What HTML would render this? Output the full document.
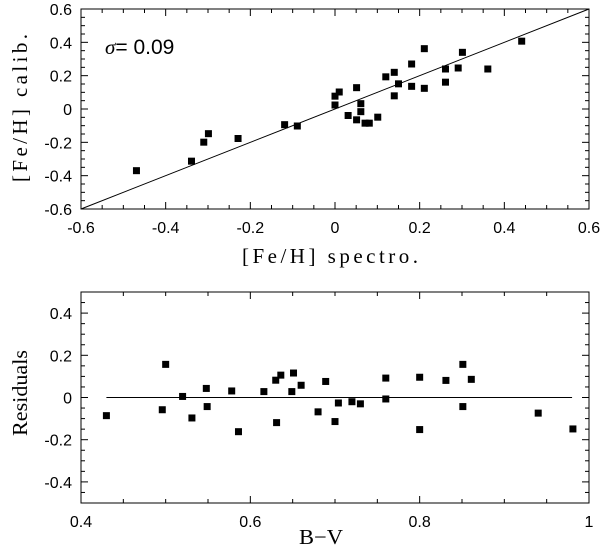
<!DOCTYPE html>
<html><head><meta charset="utf-8"><style>
body{margin:0;background:#fff;width:600px;height:547px;overflow:hidden}
svg text{font-family:"Liberation Sans",sans-serif}
</style></head><body>
<svg id="c" width="600" height="547" xmlns="http://www.w3.org/2000/svg"></svg>
<script>
const topSpectro=[-0.469,-0.339,-0.310,-0.299,-0.229,-0.119,-0.089,0.000,0.000,0.010,0.031,0.051,0.051,0.061,0.061,0.071,0.081,0.101,0.120,0.140,0.140,0.150,0.181,0.181,0.211,0.211,0.261,0.261,0.291,0.301,0.361,0.441];
const topCalib=[-0.37,-0.313,-0.199,-0.148,-0.177,-0.094,-0.102,0.077,0.024,0.102,-0.039,0.128,-0.065,0.032,-0.016,-0.085,-0.085,-0.049,0.193,0.220,0.079,0.151,0.270,0.136,0.362,0.124,0.240,0.161,0.246,0.340,0.240,0.407];
const botBV=[0.430,0.500,0.496,0.520,0.531,0.548,0.549,0.578,0.586,0.616,0.630,0.631,0.636,0.649,0.651,0.660,0.680,0.689,0.700,0.704,0.720,0.730,0.760,0.760,0.800,0.800,0.831,0.851,0.851,0.861,0.940,0.981];
const botRes=[-0.086,0.157,-0.058,0.005,-0.097,0.043,-0.043,0.031,-0.162,0.028,0.082,-0.119,0.106,0.028,0.116,0.058,-0.068,0.076,-0.114,-0.026,-0.020,-0.030,0.092,-0.007,0.096,-0.152,0.081,0.157,-0.043,0.086,-0.074,-0.149];
const topXTicks=["-0.6","-0.4","-0.2","0","0.2","0.4","0.6"];
const topYTicks=["-0.6","-0.4","-0.2","0","0.2","0.4","0.6"];
const botXTicks=["0.4","0.6","0.8","1"];
const botYTicks=["-0.4","-0.2","0","0.2","0.4"];
const svg=document.getElementById('c');
const NS="http://www.w3.org/2000/svg";
function mk(t,a,txt){const e=document.createElementNS(NS,t);for(const k in a)e.setAttribute(k,a[k]);if(txt!==undefined)e.textContent=txt;svg.appendChild(e);return e;}
function panel(p){
 const sx=v=>p.x0+(v-p.xmin)/(p.xmax-p.xmin)*(p.x1-p.x0);
 const sy=v=>p.y1-(v-p.ymin)/(p.ymax-p.ymin)*(p.y1-p.y0);
 const fr=mk('rect',{x:p.x0,y:p.y0,width:p.x1-p.x0,height:p.y1-p.y0,fill:'none',stroke:'#000','stroke-width':1});
 
 const eps=1e-9;
 for(let v=p.xmin;v<=p.xmax+eps;v+=0.05){const maj=Math.abs(Math.round(v/0.2)*0.2-v)<1e-6;const L=maj?7:4;const X=sx(v);
  mk('line',{x1:X,y1:p.y1,x2:X,y2:p.y1-L,stroke:'#000'});mk('line',{x1:X,y1:p.y0,x2:X,y2:p.y0+L,stroke:'#000'});}
 for(let v=p.ymin;v<=p.ymax+eps;v+=0.05){const maj=Math.abs(Math.round(v/0.2)*0.2-v)<1e-6;const L=maj?7:4;const Y=sy(v);
  mk('line',{x1:p.x0,y1:Y,x2:p.x0+L,y2:Y,stroke:'#000'});mk('line',{x1:p.x1,y1:Y,x2:p.x1-L,y2:Y,stroke:'#000'});}
 p.xt.forEach(t=>{const e=mk('text',{x:sx(+t),y:p.y1+24,'text-anchor':'middle','font-size':16},t);});
 p.yt.forEach(t=>{const e=mk('text',{x:p.x0-9,y:sy(+t)+6,'text-anchor':'end','font-size':16},t);});
 p.xs.forEach((v,i)=>{const r=mk('rect',{x:sx(v)-3.5,y:sy(p.ys[i])-3.5,width:7,height:7,fill:'#000'});});
 return {sx,sy};
}
const a=panel({name:'calib',x0:81,x1:589,y0:9,y1:209,xmin:-0.6,xmax:0.6,ymin:-0.6,ymax:0.6,xt:topXTicks,yt:topYTicks,xs:topSpectro,ys:topCalib});
let l=mk('line',{x1:a.sx(-0.6),y1:a.sy(-0.6),x2:a.sx(0.6),y2:a.sy(0.6),stroke:'#000'});

const b=panel({name:'residual',x0:81,x1:589,y0:292,y1:503,xmin:0.4,xmax:1.0,ymin:-0.5,ymax:0.5,xt:botXTicks,yt:botYTicks,xs:botBV,ys:botRes});
l=mk('line',{x1:b.sx(0.43),y1:b.sy(0),x2:b.sx(0.98),y2:b.sy(0),stroke:'#000'});

let t=mk('text',{x:105,y:54,'font-size':21},'');
t.innerHTML='<tspan font-style="italic" style="font-family:\'Liberation Serif\',serif">σ</tspan>=  0.09';

const serif='font-family:"Liberation Serif",serif';
t=mk('text',{x:242,y:263,'font-size':21,style:serif,textLength:176,lengthAdjust:'spacing'},'[Fe/H] spectro.');

t=mk('text',{x:0,y:0,'font-size':21,style:serif,textLength:148,lengthAdjust:'spacing',transform:'translate(27,182) rotate(-90)'},'[Fe/H] calib.');

t=mk('text',{x:299,y:544,'font-size':21,style:serif,textLength:44,lengthAdjust:'spacingAndGlyphs'},'B−V');

t=mk('text',{x:0,y:0,'font-size':21,style:serif,textLength:86,lengthAdjust:'spacingAndGlyphs',transform:'translate(27,436) rotate(-90)'},'Residuals');

</script>
</body></html>
